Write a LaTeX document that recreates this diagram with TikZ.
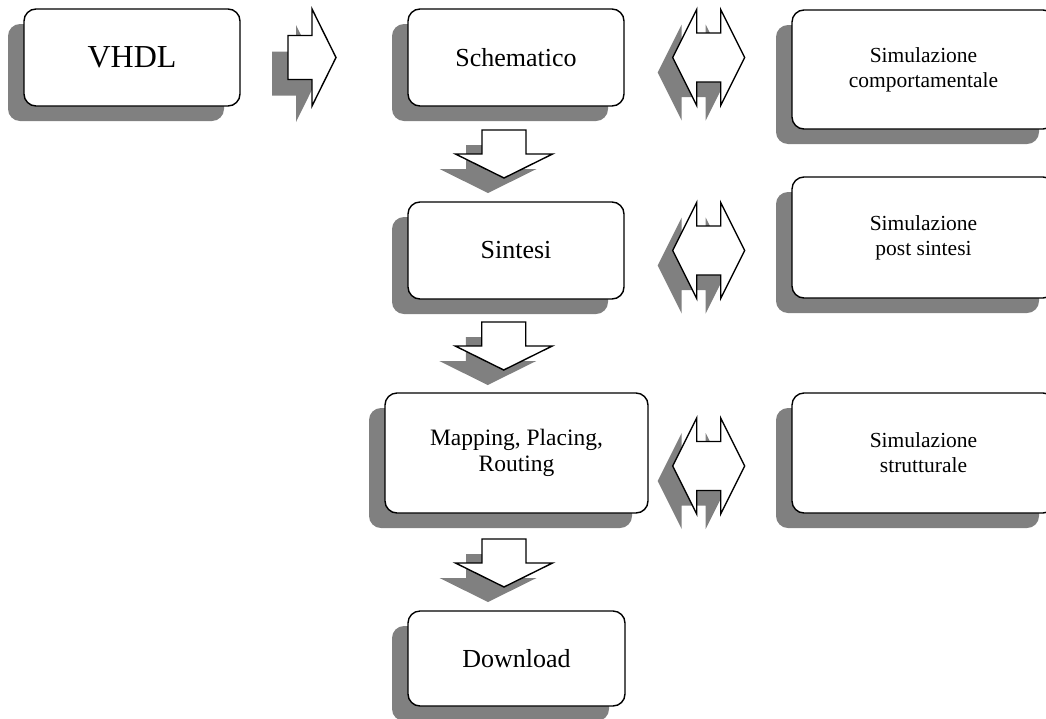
\documentclass[tikz,border=0pt]{standalone}
\usepackage{fontspec}
\setmainfont{Liberation Serif}
\usetikzlibrary{calc,shadows}
\begin{document}
\begin{tikzpicture}[x=1pt,y=-1pt,
  box/.style={draw, line width=1.4pt, rounded corners=12pt, fill=white, align=center, inner sep=0pt,
     drop shadow={shadow xshift=-16pt, shadow yshift=-15pt, fill=black!50, opacity=1}},
  smallbox/.style={box, minimum width=216pt, minimum height=97pt},
  widebox/.style={box, minimum width=263pt, minimum height=120pt},
  bigfont/.style={font=\fontsize{32}{38}\selectfont},
  midfont/.style={font=\fontsize{26}{30}\selectfont},
  mapfont/.style={font=\fontsize{23.5}{26}\selectfont},
  simfont/.style={font=\fontsize{21.5}{25}\selectfont},
  ashadow/.style={fill=black!50},
  aline/.style={draw, fill=white, line width=1.4pt, line join=miter},
  rarrow/.pic={
    \fill[ashadow, xshift=-16pt, yshift=-16pt] (-24,-22) -- (0,-22) -- (0,-48.5) -- (24,0) -- (0,48.5) -- (0,22) -- (-24,22) -- cycle;
    \path[aline] (-24,-22) -- (0,-22) -- (0,-48.5) -- (24,0) -- (0,48.5) -- (0,22) -- (-24,22) -- cycle;
  },
  darrow/.pic={
    \fill[ashadow, xshift=-16pt, yshift=-15pt] (-22,-24) -- (22,-24) -- (22,0) -- (48.5,0) -- (0,24) -- (-48.5,0) -- (-22,0) -- cycle;
    \path[aline] (-22,-24) -- (22,-24) -- (22,0) -- (48.5,0) -- (0,24) -- (-48.5,0) -- (-22,0) -- cycle;
  },
  lrarrow/.pic={
    \fill[ashadow, xshift=-15pt, yshift=-15pt] (-36,0) -- (-12,-48) -- (-12,-24.5) -- (12,-24.5) -- (12,-48) -- (36,0) -- (12,48) -- (12,24.5) -- (-12,24.5) -- (-12,48) -- cycle;
    \path[aline] (-36,0) -- (-12,-48) -- (-12,-24.5) -- (12,-24.5) -- (12,-48) -- (36,0) -- (12,48) -- (12,24.5) -- (-12,24.5) -- (-12,48) -- cycle;
  },
]
\useasboundingbox (0,0) rectangle (1046,718);

\node[smallbox, bigfont] (vhdl) at (132,57.5) {VHDL};
\node[smallbox, midfont] (schem) at (516,57.5) {Schematico};
\node[smallbox, midfont] (sint) at (516,250.5) {Sintesi};
\node[widebox, mapfont] (map) at (516.5,453) {Mapping, Placing,\\Routing};
\node[smallbox, midfont, minimum width=217pt, minimum height=95pt] (down) at (516.5,658.5) {Download};
\node[widebox, simfont, minimum height=119pt] (simc) at (923.5,69.5) {Simulazione\\comportamentale};
\node[widebox, simfont, minimum height=121pt] (simp) at (923.5,237.5) {Simulazione\\post sintesi};
\node[widebox, simfont] (sims) at (923.5,453) {Simulazione\\strutturale};

\pic at ($(vhdl.east)!0.5!(schem.west)+(-12,0)$) {rarrow};
\pic at ($(schem.south)!0.5!(sint.north)+(-12,0)$) {darrow};
\pic at ($(sint.south)!0.5!(map.north)+(-12.5,0)$) {darrow};
\pic at ($(map.south)!0.5!(down.north)+(-12.5,1)$) {darrow};
\pic at ($(schem.center -| schem.east)+(84,0)$) {lrarrow};
\pic at ($(sint.center -| sint.east)+(84,0)$) {lrarrow};
\pic at ($(map.center -| schem.east)+(84,13)$) {lrarrow};
\end{tikzpicture}
\end{document}
